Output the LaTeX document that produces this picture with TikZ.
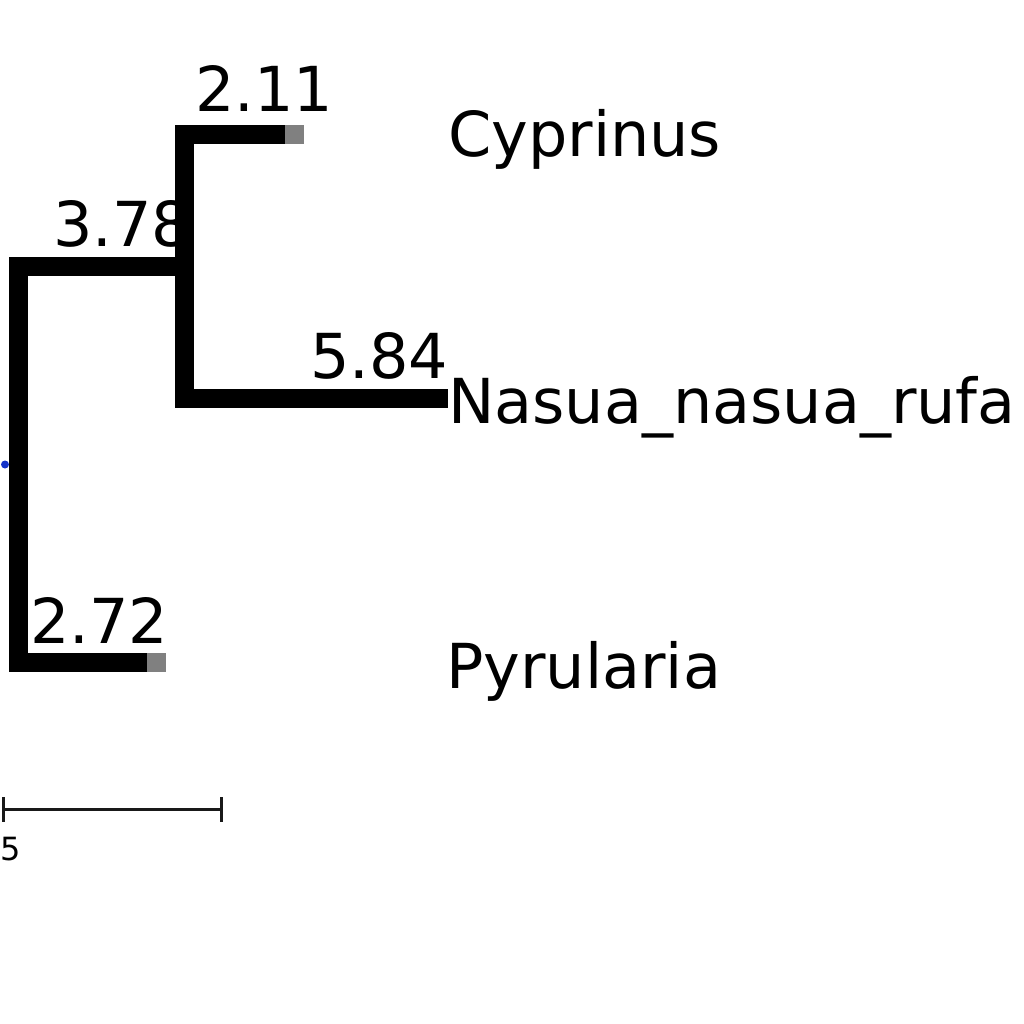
\documentclass[tikz,border=0pt]{standalone}
\usepackage{fontspec}
\setmainfont{DejaVu Sans}
\definecolor{leafgray}{RGB}{128,128,128}
\definecolor{rootblue}{RGB}{20,50,200}
\tikzset{
  br/.style={line width=19pt, line cap=butt, line join=miter, draw=black},
  inner/.style={fill=black, minimum size=19pt, inner sep=0pt, outer sep=0pt, draw=none},
  leafmark/.style={fill=leafgray, minimum size=19pt, inner sep=0pt, outer sep=0pt, draw=none},
  rootdot/.style={circle, fill=rootblue, minimum size=8pt, inner sep=0pt, draw=none},
  lbl/.style={anchor=base west, inner sep=0pt, font=\fontsize{62}{74}\selectfont},
  sclbl/.style={anchor=base west, inner sep=0pt, font=\fontsize{32}{38}\selectfont},
  scale bar/.style={line width=3pt, draw=black!90}
}
\begin{document}
\begin{tikzpicture}[x=1pt,y=-1pt]
\useasboundingbox[fill=white] (0,0) rectangle (1024,1024);
% nodes
\coordinate (root) at (18.5,464.5);
\node[inner] (n1) at (184,266.5) {};
\coordinate (cyp) at (285,134.5);
\coordinate (nas) at (448,398.5);
\coordinate (pyr) at (147,662.5);
% branches
\draw[br] (root) |- (n1.west);
\draw[br] (root) |- (pyr);
\draw[br] (n1.north) |- (cyp);
\draw[br] (n1.south) |- (nas);
% leaf markers
\node[leafmark] (cypm) at (294.5,134.5) {};
\node[leafmark] (pyrm) at (156.5,662.5) {};
\node[rootdot] (rd) at (5,464.5) {};
% branch lengths
\node[lbl] (l211) at (195,112) {2.11};
\node[lbl] (l378) at (53,246) {3.78};
\node[lbl] (l584) at (310,378) {5.84};
\node[lbl] (l272) at (30,643) {2.72};
% taxa
\node[lbl] (tcyp) at (448,157) {Cyprinus};
\node[lbl] (tnas) at (448,423) {Nasua\_nasua\_rufa};
\node[lbl] (tpyr) at (446,688) {Pyrularia};
% scale bar
\coordinate (sa) at (3,809);
\coordinate (sb) at (221,809);
\draw[scale bar] (sa) -- (sb);
\draw[scale bar] ([yshift=-12.5pt]sa) -- ([yshift=12.5pt]sa);
\draw[scale bar] ([yshift=-12.5pt]sb) -- ([yshift=12.5pt]sb);
\node[sclbl] (s5) at (0,860) {5};
\end{tikzpicture}
\end{document}
